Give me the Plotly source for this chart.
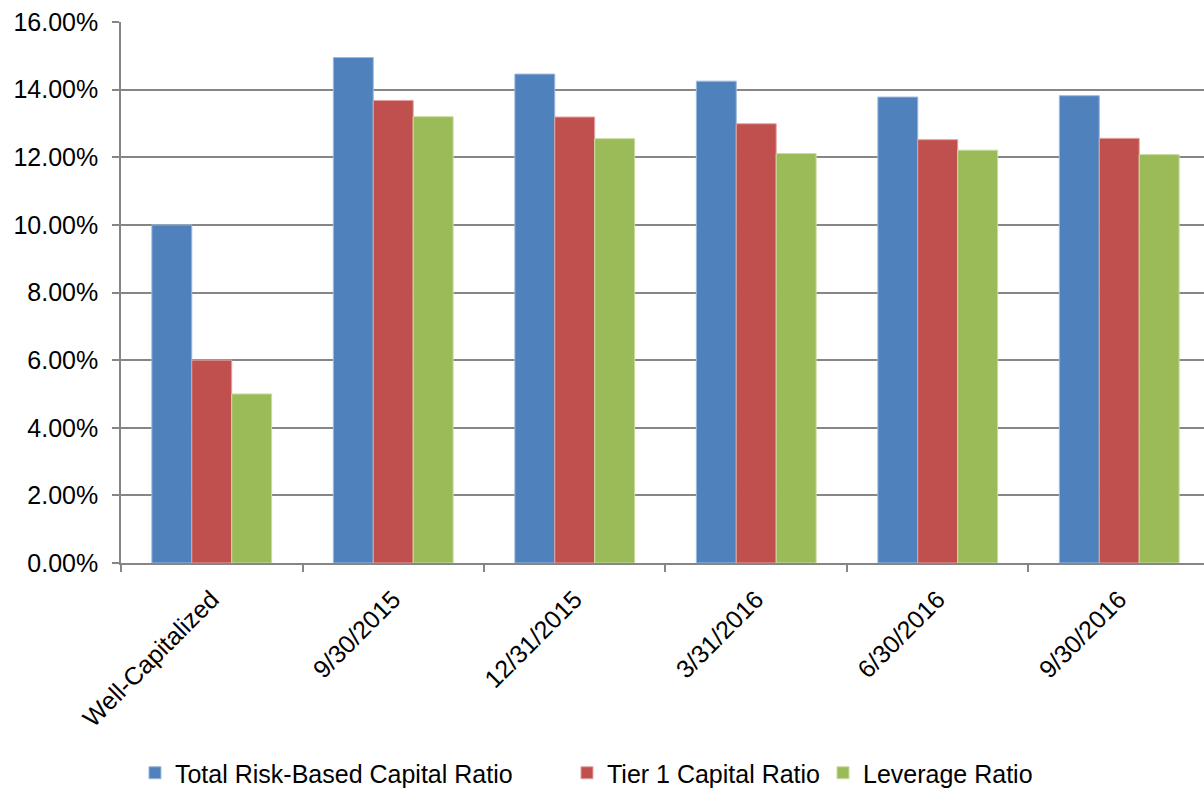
import plotly.graph_objects as go

# Capital ratios by reporting date, in percent
categories = ["Well-Capitalized", "9/30/2015", "12/31/2015", "3/31/2016", "6/30/2016", "9/30/2016"]
total_risk_based = [10.00, 14.95, 14.46, 14.25, 13.78, 13.82]
tier1_capital = [6.00, 13.68, 13.19, 12.99, 12.52, 12.56]
leverage = [5.00, 13.20, 12.55, 12.11, 12.21, 12.08]
y_ticks = [0, 2, 4, 6, 8, 10, 12, 14, 16]
y_tick_labels = [f"{v:.2f}%" for v in y_ticks]

series_names = ["Total Risk-Based Capital Ratio", "Tier 1 Capital Ratio", "Leverage Ratio"]
series_values = [total_risk_based, tier1_capital, leverage]
fill_colors = ["#4F81BD", "#C0504D", "#9BBB59"]
edge_colors = ["#9DB9DE", "#E3A3A1", "#C9DCA3"]
legend_ids = ["legend", "legend2", "legend3"]
legend_x = [0.0129, 0.4118, 0.6482]

FONT = "Liberation Sans, Arial, sans-serif"
FS = 25
GRID = "#868686"

fig = go.Figure()
for name, vals, color, edge, lg in zip(series_names, series_values, fill_colors, edge_colors, legend_ids):
    fig.add_trace(go.Bar(
        x=categories, y=vals, name=name, legend=lg,
        marker=dict(color=color, line=dict(color=edge, width=1)),
    ))

legend_common = dict(
    orientation="h", xanchor="left", y=-0.3887, yanchor="middle",
    font=dict(family=FONT, size=FS, color="black"),
    bgcolor="rgba(0,0,0,0)", borderwidth=0,
)

fig.update_layout(
    width=1204, height=796,
    margin=dict(l=121, r=0, t=22, b=226),
    paper_bgcolor="white", plot_bgcolor="white",
    barmode="group", bargap=0.34, bargroupgap=0,
    font=dict(family=FONT, size=FS, color="black"),
    showlegend=True,
    legend=dict(x=legend_x[0], **legend_common),
    legend2=dict(x=legend_x[1], **legend_common),
    legend3=dict(x=legend_x[2], **legend_common),
)

fig.update_xaxes(
    type="category", range=[-0.5, 5.467], automargin=False,
    tickson="boundaries", ticks="outside", ticklen=7, tickwidth=1.5, tickcolor=GRID,
    showline=True, linecolor=GRID, linewidth=1.5,
    showgrid=False, tickangle=-45, ticklabelstandoff=10,
    tickfont=dict(family=FONT, size=FS, color="black"),
)
fig.update_yaxes(
    range=[0, 16], tickvals=y_ticks, ticktext=y_tick_labels, automargin=False,
    ticks="outside", ticklen=7, tickwidth=1.5, tickcolor=GRID,
    showline=True, linecolor=GRID, linewidth=1.5,
    showgrid=True, gridcolor=GRID, gridwidth=1.5,
    zeroline=False, ticklabelstandoff=9,
    tickfont=dict(family=FONT, size=FS, color="black"),
)

fig.write_html("out.html")
